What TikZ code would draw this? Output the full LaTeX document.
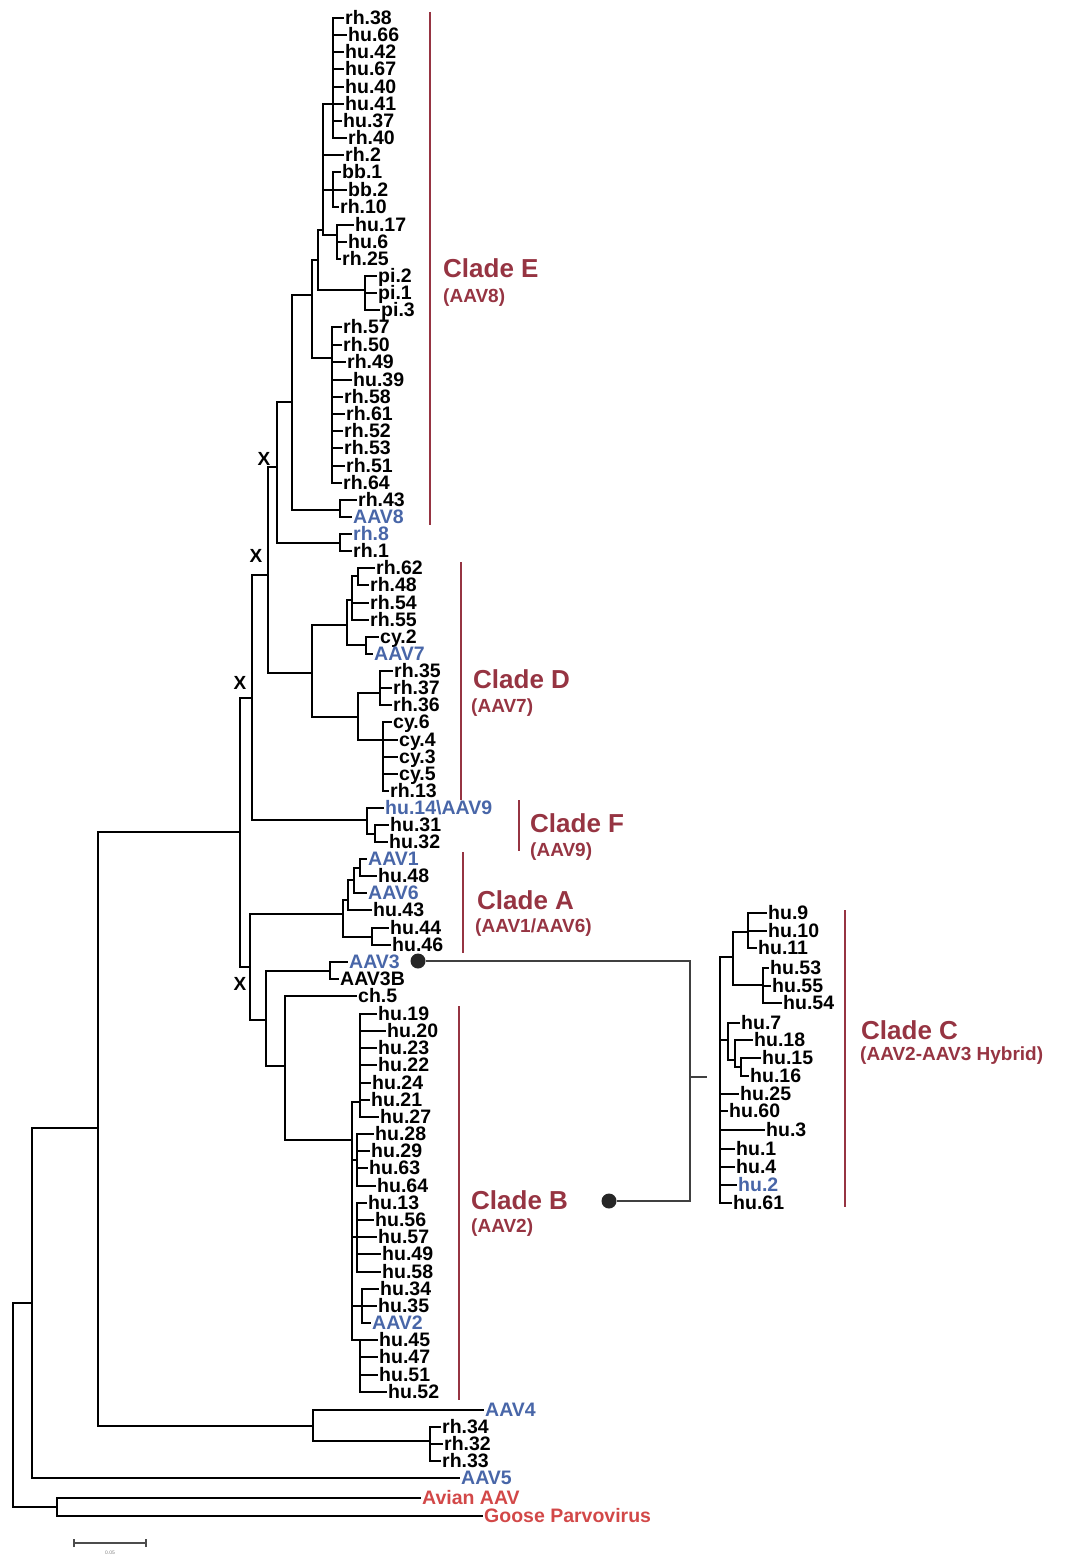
\documentclass[tikz,border=0pt]{standalone}
\usepackage{fontspec}
\setmainfont{Liberation Sans}
\definecolor{cladered}{RGB}{150,52,66}
\definecolor{leafblue}{RGB}{72,102,168}
\definecolor{outred}{RGB}{210,72,72}
\newcommand{\lf}[5]{\node[lf,#5] (#1) at (#2,#3) {#4};}
\newcommand{\kids}[2]{\foreach \c in {#2} {\draw[br] (#1) |- (\c);}}
\begin{document}
\begin{tikzpicture}[x=1pt,y=-1pt,
  lf/.style={anchor=west,inner xsep=1pt,inner ysep=0pt,text height=13.8pt,text depth=0pt,font=\fontsize{19.5}{19.5}\selectfont\bfseries},
  bl/.style={text=leafblue},
  rd/.style={text=outred},
  bk/.style={text=black},
  br/.style={line width=2.6pt,line join=miter},
  bar/.style={line width=2.2pt,draw=cladered},
  clade/.style={anchor=west,inner sep=0pt,text=cladered,font=\fontsize{26}{26}\selectfont\bfseries},
  sub/.style={anchor=west,inner sep=0pt,text=cladered,font=\fontsize{19}{19}\selectfont\bfseries},
  xm/.style={inner sep=0pt,font=\fontsize{19}{19}\selectfont\bfseries},
  hyb/.style={line width=1.3pt,draw=black!75},
  dot/.style={circle,fill=black!85,inner sep=0pt,minimum size=15pt}]
\useasboundingbox (0,0) rectangle (1074,1557);
% ---------- leaves: clade E
\lf{rh38}{344}{18}{rh.38}{bk}
\lf{hu66}{347}{35}{hu.66}{bk}
\lf{hu42}{344}{52}{hu.42}{bk}
\lf{hu67}{344}{69}{hu.67}{bk}
\lf{hu40}{344}{87}{hu.40}{bk}
\lf{hu41}{344}{104}{hu.41}{bk}
\lf{hu37}{342}{121}{hu.37}{bk}
\lf{rh40}{347}{138}{rh.40}{bk}
\lf{rh2}{344}{155}{rh.2}{bk}
\lf{bb1}{341}{172}{bb.1}{bk}
\lf{bb2}{347}{190}{bb.2}{bk}
\lf{rh10}{339}{207}{rh.10}{bk}
\lf{hu17}{354}{225}{hu.17}{bk}
\lf{hu6}{347}{242}{hu.6}{bk}
\lf{rh25}{341}{259}{rh.25}{bk}
\lf{pi2}{377}{276}{pi.2}{bk}
\lf{pi1}{377}{293}{pi.1}{bk}
\lf{pi3}{380}{310}{pi.3}{bk}
\lf{rh57}{342}{327}{rh.57}{bk}
\lf{rh50}{342}{345}{rh.50}{bk}
\lf{rh49}{346}{362}{rh.49}{bk}
\lf{hu39}{352}{380}{hu.39}{bk}
\lf{rh58}{343}{397}{rh.58}{bk}
\lf{rh61}{345}{414}{rh.61}{bk}
\lf{rh52}{343}{431}{rh.52}{bk}
\lf{rh53}{343}{448}{rh.53}{bk}
\lf{rh51}{345}{466}{rh.51}{bk}
\lf{rh64}{342}{483}{rh.64}{bk}
\lf{rh43}{357}{500}{rh.43}{bk}
\lf{aav8}{352}{517}{AAV8}{bl}
\lf{rh8}{352}{534}{rh.8}{bl}
\lf{rh1}{352}{551}{rh.1}{bk}
% ---------- clade D
\lf{rh62}{375}{568}{rh.62}{bk}
\lf{rh48}{369}{585}{rh.48}{bk}
\lf{rh54}{369}{603}{rh.54}{bk}
\lf{rh55}{369}{620}{rh.55}{bk}
\lf{cy2}{379}{637}{cy.2}{bk}
\lf{aav7}{373}{654}{AAV7}{bl}
\lf{rh35}{393}{671}{rh.35}{bk}
\lf{rh37}{392}{688}{rh.37}{bk}
\lf{rh36}{392}{705}{rh.36}{bk}
\lf{cy6}{392}{722}{cy.6}{bk}
\lf{cy4}{398}{740}{cy.4}{bk}
\lf{cy3}{398}{757}{cy.3}{bk}
\lf{cy5}{398}{774}{cy.5}{bk}
\lf{rh13}{389}{791}{rh.13}{bk}
% ---------- clade F
\lf{hu14}{384}{808}{hu.14\textbackslash AAV9}{bl}
\lf{hu31}{389}{825}{hu.31}{bk}
\lf{hu32}{388}{842}{hu.32}{bk}
% ---------- clade A
\lf{aav1}{367}{859}{AAV1}{bl}
\lf{hu48}{377}{876}{hu.48}{bk}
\lf{aav6}{367}{893}{AAV6}{bl}
\lf{hu43}{372}{910}{hu.43}{bk}
\lf{hu44}{389}{928}{hu.44}{bk}
\lf{hu46}{391}{945}{hu.46}{bk}
\lf{aav3}{348}{962}{AAV3}{bl}
\lf{aav3b}{339}{979}{AAV3B}{bk}
\lf{ch5}{357}{996}{ch.5}{bk}
% ---------- clade B
\lf{hu19}{377}{1014}{hu.19}{bk}
\lf{hu20}{386}{1031}{hu.20}{bk}
\lf{hu23}{377}{1048}{hu.23}{bk}
\lf{hu22}{377}{1065}{hu.22}{bk}
\lf{hu24}{371}{1083}{hu.24}{bk}
\lf{hu21}{370}{1100}{hu.21}{bk}
\lf{hu27}{379}{1117}{hu.27}{bk}
\lf{hu28}{374}{1134}{hu.28}{bk}
\lf{hu29}{370}{1151}{hu.29}{bk}
\lf{hu63}{368}{1168}{hu.63}{bk}
\lf{hu64}{376}{1186}{hu.64}{bk}
\lf{hu13}{367}{1203}{hu.13}{bk}
\lf{hu56}{374}{1220}{hu.56}{bk}
\lf{hu57}{377}{1237}{hu.57}{bk}
\lf{hu49}{381}{1254}{hu.49}{bk}
\lf{hu58}{381}{1272}{hu.58}{bk}
\lf{hu34}{379}{1289}{hu.34}{bk}
\lf{hu35}{377}{1306}{hu.35}{bk}
\lf{aav2}{371}{1323}{AAV2}{bl}
\lf{hu45}{378}{1340}{hu.45}{bk}
\lf{hu47}{378}{1357}{hu.47}{bk}
\lf{hu51}{378}{1375}{hu.51}{bk}
\lf{hu52}{387}{1392}{hu.52}{bk}
% ---------- outgroups
\lf{aav4}{484}{1410}{AAV4}{bl}
\lf{rh34}{441}{1427}{rh.34}{bk}
\lf{rh32}{443}{1444}{rh.32}{bk}
\lf{rh33}{441}{1461}{rh.33}{bk}
\lf{aav5}{460}{1478}{AAV5}{bl}
\lf{avian}{421}{1498}{Avian AAV}{rd}
\lf{goose}{483}{1516}{Goose Parvovirus}{rd}
% ---------- clade C
\lf{hu9}{767}{913}{hu.9}{bk}
\lf{hu10}{767}{931}{hu.10}{bk}
\lf{hu11}{757}{948}{hu.11}{bk}
\lf{hu53}{769}{968}{hu.53}{bk}
\lf{hu55}{771}{986}{hu.55}{bk}
\lf{hu54}{782}{1003}{hu.54}{bk}
\lf{hu7}{740}{1023}{hu.7}{bk}
\lf{hu18}{753}{1040}{hu.18}{bk}
\lf{hu15}{761}{1058}{hu.15}{bk}
\lf{hu16}{749}{1076}{hu.16}{bk}
\lf{hu25}{739}{1094}{hu.25}{bk}
\lf{hu60}{728}{1111}{hu.60}{bk}
\lf{hu3}{765}{1130}{hu.3}{bk}
\lf{hu1}{735}{1149}{hu.1}{bk}
\lf{hu4}{735}{1167}{hu.4}{bk}
\lf{hu2}{737}{1185}{hu.2}{bl}
\lf{hu61}{732}{1203}{hu.61}{bk}
% ---------- internal nodes
\coordinate (eA) at (333,104);
\coordinate (eBB) at (333,190);
\coordinate (eH) at (337,235);
\coordinate (eB) at (323,230);
\coordinate (E2) at (318,260);
\coordinate (pi) at (365,290);
\coordinate (E3) at (312,295);
\coordinate (rhc) at (332,358);
\coordinate (E4) at (292,402);
\coordinate (p8) at (340,510);
\coordinate (E5) at (277,467);
\coordinate (p1) at (340,543);
\coordinate (E6) at (268,575);
\coordinate (D0) at (312,673);
\coordinate (D1) at (347,625);
\coordinate (D1a) at (352,600);
\coordinate (D1c) at (358,576);
\coordinate (D1b) at (366,645);
\coordinate (D2) at (358,717);
\coordinate (D2a) at (380,693);
\coordinate (D2b) at (383,740);
\coordinate (N3) at (252,698);
\coordinate (F0) at (367,820);
\coordinate (F1) at (375,834);
\coordinate (N2) at (240,832);
\coordinate (N4) at (250,967);
\coordinate (A0) at (343,914);
\coordinate (A1) at (348,900);
\coordinate (A2) at (354,880);
\coordinate (A3) at (360,868);
\coordinate (A5) at (372,937);
\coordinate (N5) at (266,1020);
\coordinate (P3) at (330,971);
\coordinate (N6) at (285,1066);
\coordinate (B0) at (352,1140);
\coordinate (Bt) at (360,1102);
\coordinate (B2) at (357,1160);
\coordinate (B3) at (357,1237);
\coordinate (B4) at (362,1306);
\coordinate (B5) at (360,1340);
\coordinate (R1) at (98,1128);
\coordinate (G4) at (313,1426);
\coordinate (G5) at (430,1441);
\coordinate (R2) at (32,1303);
\coordinate (root) at (13,1400);
\coordinate (G6) at (57,1507);
\coordinate (C0) at (720,1077);
\coordinate (C2) at (733,957);
\coordinate (C3) at (748,932);
\coordinate (C4) at (763,985);
\coordinate (C7) at (728,1040);
\coordinate (C8) at (735,1060);
\coordinate (C9) at (741,1067);
% ---------- branches
\kids{eA}{rh38,hu66,hu42,hu67,hu40,hu41,hu37,rh40}
\kids{eBB}{bb1,bb2,rh10}
\kids{eH}{hu17,hu6,rh25}
\kids{eB}{eA,rh2,eBB,eH}
\kids{pi}{pi2,pi1,pi3}
\kids{E2}{eB,pi}
\kids{rhc}{rh57,rh50,rh49,hu39,rh58,rh61,rh52,rh53,rh51,rh64}
\kids{E3}{E2,rhc}
\kids{p8}{rh43,aav8}
\kids{E4}{E3,p8}
\kids{p1}{rh8,rh1}
\kids{E5}{E4,p1}
\kids{D1c}{rh62,rh48}
\kids{D1a}{D1c,rh54,rh55}
\kids{D1b}{cy2,aav7}
\kids{D1}{D1a,D1b}
\kids{D2a}{rh35,rh37,rh36}
\kids{D2b}{cy6,cy4,cy3,cy5,rh13}
\kids{D2}{D2a,D2b}
\kids{D0}{D1,D2}
\kids{E6}{E5,D0}
\kids{F1}{hu31,hu32}
\kids{F0}{hu14,F1}
\kids{N3}{E6,F0}
\kids{A3}{aav1,hu48}
\kids{A2}{A3,aav6}
\kids{A1}{A2,hu43}
\kids{A5}{hu44,hu46}
\kids{A0}{A1,A5}
\kids{P3}{aav3,aav3b}
\kids{Bt}{hu19,hu20,hu23,hu22,hu24,hu21,hu27}
\kids{B2}{hu28,hu29,hu63,hu64}
\kids{B3}{hu13,hu56,hu57,hu49,hu58}
\kids{B4}{hu34,hu35,aav2}
\kids{B5}{hu45,hu47,hu51,hu52}
\kids{B0}{Bt,B2,B3,B4,B5}
\kids{N6}{ch5,B0}
\kids{N5}{P3,N6}
\kids{N4}{A0,N5}
\kids{N2}{N3,N4}
\kids{G5}{rh34,rh32,rh33}
\kids{G4}{aav4,G5}
\kids{R1}{N2,G4}
\kids{R2}{R1,aav5}
\kids{G6}{avian,goose}
\kids{root}{R2,G6}
\kids{C3}{hu9,hu10,hu11}
\kids{C4}{hu53,hu55,hu54}
\kids{C2}{C3,C4}
\kids{C9}{hu15,hu16}
\kids{C8}{hu18,C9}
\kids{C7}{hu7,C8}
\kids{C0}{C2,C7,hu25,hu60,hu3,hu1,hu4,hu2,hu61}
% ---------- X marks
\node[xm] (x1) at (264,459) {X};
\node[xm] (x2) at (256,556) {X};
\node[xm] (x3) at (240,683) {X};
\node[xm] (x4) at (240,984) {X};
% ---------- hybrid link
\node[dot] (d1) at (418,961) {};
\node[dot] (d2) at (609,1201) {};
\coordinate (hc) at (690,1077);
\coordinate (hcend) at (707,1077);
\draw[hyb] (d1) -| (hc) |- (d2);
\draw[hyb] (hc) -- (hcend);
% ---------- clade bars and labels
\draw[bar] (430,12) -- (430,525);
\node[clade] (lE) at (443,268) {Clade E};
\node[sub] (sE) at (443,298) {(AAV8)};
\draw[bar] (461,562) -- (461,800);
\node[clade] (lD) at (473,679) {Clade D};
\node[sub] (sD) at (471,708) {(AAV7)};
\draw[bar] (519,800) -- (519,851);
\node[clade] (lF) at (530,823) {Clade F};
\node[sub] (sF) at (530,852) {(AAV9)};
\draw[bar] (463,852) -- (463,953);
\node[clade] (lA) at (477,900) {Clade A};
\node[sub] (sA) at (475,928) {(AAV1/AAV6)};
\draw[bar] (459,1006) -- (459,1400);
\node[clade] (lB) at (471,1200) {Clade B};
\node[sub] (sB) at (471,1228) {(AAV2)};
\draw[bar] (845,910) -- (845,1207);
\node[clade] (lC) at (861,1030) {Clade C};
\node[sub] (sC) at (860,1056) {(AAV2-AAV3 Hybrid)};
% ---------- scale bar
\coordinate (s1) at (74,1543);
\coordinate (s2) at (146,1543);
\draw[line width=1.2pt,black!70] (s1) -- (s2);
\draw[line width=1.2pt,black!70] ([yshift=-4pt]s1) -- ([yshift=4pt]s1);
\draw[line width=1.2pt,black!70] ([yshift=-4pt]s2) -- ([yshift=4pt]s2);
\node[inner sep=0pt,font=\fontsize{5}{5}\selectfont,text=black!50] (sl) at (110,1553) {0.05};
\end{tikzpicture}
\end{document}
